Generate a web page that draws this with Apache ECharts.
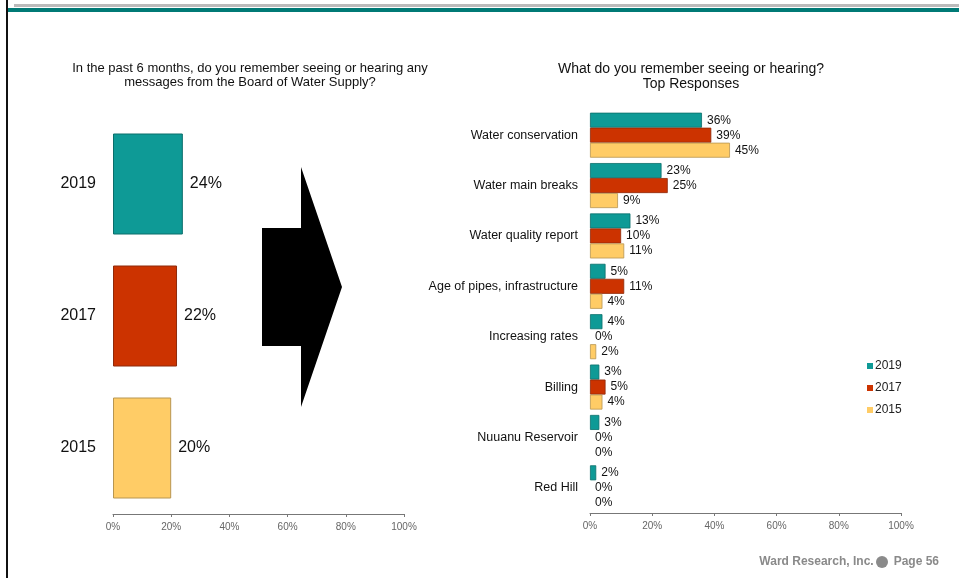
<!DOCTYPE html>
<html>
<head>
<meta charset="utf-8">
<script src="https://cdn.jsdelivr.net/npm/echarts@6/dist/echarts.min.js"></script>
<style>
html,body{margin:0;padding:0;background:#fff;}
#main{width:959px;height:578px;}
</style>
</head>
<body>
<div id="main"></div>
<script>
// left chart: seen or heard any messages
var awareYears = ['2019', '2017', '2015'];
var awareValues = [24, 22, 20];
// right chart: top responses
var topics = ['Water conservation', 'Water main breaks', 'Water quality report', 'Age of pipes, infrastructure',
	'Increasing rates', 'Billing', 'Nuuanu Reservoir', 'Red Hill'];
var seriesNames = ['2019', '2017', '2015'];
var val2019 = [36, 23, 13, 5, 4, 3, 3, 2];
var val2017 = [39, 25, 10, 11, 0, 5, 0, 0];
var val2015 = [45, 9, 11, 4, 2, 4, 0, 0];
var pctTicks = [0, 20, 40, 60, 80, 100];

var colors = ['#0E9A96', '#CC3300', '#FFCC66'];
var borders = ['#0B6E6B', '#8E2A0A', '#B89650'];
var font = "'Liberation Sans Narrow', 'Liberation Sans', Arial, sans-serif";

var chart = echarts.init(document.getElementById('main'));

function pctAxis(idx) {
	return {
		type: 'value', gridIndex: idx, min: 0, max: 100, interval: 20,
		axisLine: {show: true, lineStyle: {color: '#777', width: 1}},
		axisTick: {show: true, length: 3, lineStyle: {color: '#777'}},
		splitLine: {show: false},
		axisLabel: {
			color: '#666', fontSize: 10, fontFamily: 'Arial, sans-serif', margin: 8,
			formatter: function (v) { return pctTicks.indexOf(v) >= 0 ? v + '%' : ''; }
		}
	};
}

var awareData = awareValues.map(function (v, i) {
	return {value: v, itemStyle: {color: colors[i], borderColor: borders[i], borderWidth: 1}};
});

var rightSeries = [val2019, val2017, val2015].map(function (arr, i) {
	return {
		name: seriesNames[i], type: 'bar', xAxisIndex: 1, yAxisIndex: 1,
		data: arr.map(function (v) {
			// no outline on empty bars
			return {value: v, itemStyle: {borderWidth: v > 0 ? 0.8 : 0}};
		}),
		barWidth: 15, barGap: '0%',
		itemStyle: {color: colors[i], borderColor: borders[i]},
		label: {show: true, position: 'right', distance: 5, formatter: '{c}%', color: '#111', fontSize: 12, fontFamily: font},
		emphasis: {disabled: true}
	};
});

var option = {
	animation: false,
	backgroundColor: '#fff',
	title: [{
		text: 'In the past 6 months, do you remember seeing or hearing any\nmessages from the Board of Water Supply?',
		left: 245, top: 56, textAlign: 'center',
		textStyle: {fontSize: 13, fontWeight: 'normal', color: '#111', fontFamily: font, lineHeight: 14}
	}, {
		text: 'What do you remember seeing or hearing?\nTop Responses',
		left: 686, top: 57, textAlign: 'center',
		textStyle: {fontSize: 14, fontWeight: 'normal', color: '#111', fontFamily: font, lineHeight: 15}
	}],
	legend: {
		data: seriesNames, orient: 'vertical', left: 862, top: 355,
		itemWidth: 6, itemHeight: 6, itemGap: 10, icon: 'rect',
		textStyle: {fontSize: 12, color: '#222', fontFamily: 'Arial, sans-serif', padding: [0, 0, 0, -3]}
	},
	grid: [
		{left: 113, width: 291, top: 118, height: 396},
		{left: 590, width: 311, top: 110, height: 403}
	],
	xAxis: [pctAxis(0), pctAxis(1)],
	yAxis: [{
		type: 'category', gridIndex: 0, data: awareYears, inverse: true,
		axisLine: {show: false}, axisTick: {show: false},
		axisLabel: {color: '#111', fontSize: 16, fontFamily: 'Arial, sans-serif', margin: 17}
	}, {
		type: 'category', gridIndex: 1, data: topics, inverse: true,
		axisLine: {show: false}, axisTick: {show: false},
		axisLabel: {color: '#111', fontSize: 12.5, fontFamily: font, margin: 12}
	}],
	series: [{
		type: 'bar', xAxisIndex: 0, yAxisIndex: 0, data: awareData, barWidth: 101,
		label: {show: true, position: 'right', distance: 7, formatter: '{c}%', color: '#111', fontSize: 16, fontFamily: 'Arial, sans-serif'},
		emphasis: {disabled: true}
	}].concat(rightSeries),
	graphic: [
		// page frame
		{type: 'rect', shape: {x: 6, y: 0, width: 2, height: 578}, style: {fill: '#111'}},
		{type: 'rect', shape: {x: 14, y: 4, width: 945, height: 3}, style: {fill: '#BBBBBB'}},
		{type: 'rect', shape: {x: 8, y: 8, width: 951, height: 4}, style: {fill: '#007A76'}},
		// arrow
		{type: 'polygon', shape: {points: [[262, 228], [301, 228], [301, 167], [342, 287], [301, 407], [301, 346], [262, 346]]},
			style: {fill: '#000'}},
		// footer
		{type: 'text', right: 20, top: 556, style: {
			text: 'Ward Research, Inc.      Page 56', fill: '#8A8A8A', fontSize: 12, fontWeight: 'bold', fontFamily: 'Arial, sans-serif'}},
		{type: 'circle', shape: {cx: 882, cy: 562, r: 6}, style: {fill: '#8A8A8A'}}
	]
};
chart.setOption(option);
</script>
</body>
</html>
